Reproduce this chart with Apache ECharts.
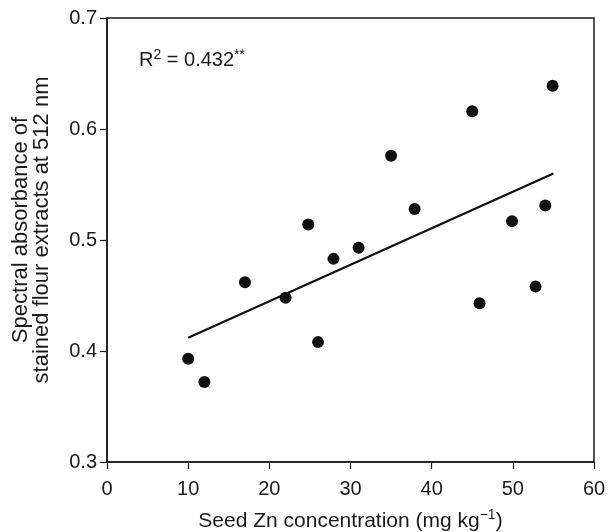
<!DOCTYPE html>
<html><head><meta charset="utf-8">
<script src="https://cdn.jsdelivr.net/npm/echarts@6/dist/echarts.min.js"></script>
<style>html,body{margin:0;padding:0;background:#fff}#c{width:609px;height:532px}</style>
</head><body><div id="c"></div>
<script>
const zn = [10, 12, 17, 22, 24.8, 26, 27.9, 31, 35, 37.9, 45, 45.9, 49.9, 52.8, 54, 54.9];
const absorbance = [0.393, 0.372, 0.462, 0.448, 0.514, 0.408, 0.483, 0.493, 0.576, 0.528, 0.616, 0.443, 0.517, 0.458, 0.531, 0.639];
const trendX = [10, 55];
const trendY = [0.412, 0.560];
const xTicks = [0, 10, 20, 30, 40, 50, 60];
const yTicks = [0.3, 0.4, 0.5, 0.6, 0.7];

const font = 'Liberation Sans, Arial, sans-serif';
const ink = '#1a1a1a';
const chart = echarts.init(document.getElementById('c'));
chart.setOption({
  animation: false,
  grid: {left: 107, right: 15, top: 18, bottom: 70, containLabel: false, outerBoundsMode: 'none',
         show: true, borderColor: ink, borderWidth: 1.5, backgroundColor: 'transparent'},
  xAxis: {
    type: 'value', min: xTicks[0], max: xTicks[xTicks.length-1], interval: 10,
    name: 'Seed Zn concentration (mg kg{sup|−1})', nameLocation: 'middle', nameGap: 46,
    nameTextStyle: {fontFamily: font, fontSize: 21, color: ink, rich: {sup: {fontSize: 14, verticalAlign: 'top', padding: [0,0,12,0], fontFamily: font, color: ink}}},
    axisLine: {lineStyle: {color: ink, width: 1.5}},
    axisTick: {show: true, length: 7, lineStyle: {color: ink, width: 1.2}},
    axisLabel: {fontFamily: font, fontSize: 20, color: ink, margin: 17},
    splitLine: {show: false}
  },
  yAxis: {
    type: 'value', min: yTicks[0], max: yTicks[yTicks.length-1], interval: 0.1,
    name: 'Spectral absorbance of\nstained flour extracts at 512 nm', nameLocation: 'middle', nameGap: 55,
    nameTextStyle: {fontFamily: font, fontSize: 22, color: ink, lineHeight: 21, padding: [0, 0, 0, 20]},
    axisLine: {lineStyle: {color: ink, width: 1.5}},
    axisTick: {show: true, length: 7, lineStyle: {color: ink, width: 1.2}},
    axisLabel: {fontFamily: font, fontSize: 20, color: ink, margin: 10, formatter: v => v.toFixed(1)},
    splitLine: {show: false}
  },
  graphic: [{
    type: 'text', left: 139, top: 48,
    style: {
      text: 'R{sup|2} = 0.432{sup|**}', fontFamily: font, fontSize: 20, fill: ink,
      rich: {sup: {fontSize: 14, verticalAlign: 'top', padding: [0,0,11,0], fontFamily: font, fill: ink}}
    }
  }],
  series: [
    {type: 'scatter', data: zn.map((x, i) => [x, absorbance[i]]), symbolSize: 12, itemStyle: {color: '#111', opacity: 1}, z: 3},
    {type: 'line', data: trendX.map((x, i) => [x, trendY[i]]), symbol: 'none', lineStyle: {color: '#111', width: 2.2}, z: 2}
  ]
});
</script></body></html>
